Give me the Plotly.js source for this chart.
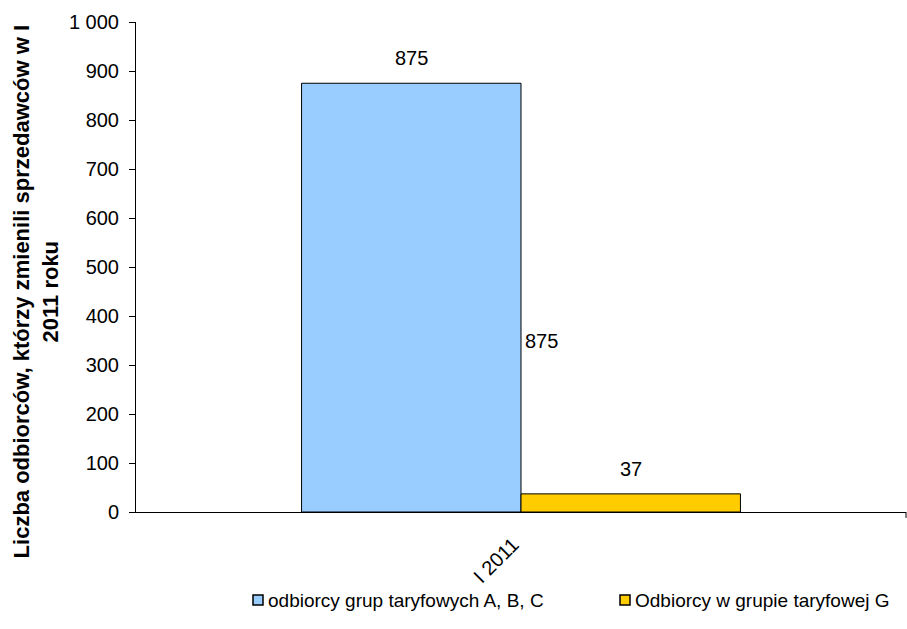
<!DOCTYPE html>
<html>
<head>
<meta charset="utf-8">
<script src="https://cdn.plot.ly/plotly-3.0.1.min.js"></script>
<style>html,body{margin:0;padding:0;background:#fff;}#chart{width:907px;height:629px;}</style>
</head>
<body>
<div id="chart"></div>
<script>
var categories = ["I 2011"];
var seriesNames = ["odbiorcy grup taryfowych A, B, C", "Odbiorcy w grupie taryfowej G"];
var seriesColors = ["#99CCFF", "#FFCC00"];
var seriesABC = [875];
var seriesG = [37];
var yTickVals = [0, 100, 200, 300, 400, 500, 600, 700, 800, 900, 1000];
var yTickText = ["0", "100", "200", "300", "400", "500", "600", "700", "800", "900", "1 000"];
var extraLabelValue = 875;
var extraLabelY = 350;

var fontFam = "Liberation Sans, Arial, sans-serif";

var traces = [
  {
    type: "bar", x: categories, y: seriesABC, name: seriesNames[0],
    marker: {color: seriesColors[0], line: {color: "#000", width: 1}}
  },
  {
    type: "bar", x: categories, y: seriesG, name: seriesNames[1],
    marker: {color: seriesColors[1], line: {color: "#000", width: 1}}
  }
];

var labelFont = {family: fontFam, size: 20, color: "#000"};

// plot area in pixels: left 136, width 770, top 22, height 490
function px2paperX(p) { return (p - 136) / 770; }
function px2paperY(p) { return (512 - p) / 490; }

var legendItems = [
  {sq: 253, txt: 266},
  {sq: 620, txt: 633}
];
var legendY = 600;

var shapes = [
  {type: "line", xref: "paper", yref: "paper", x0: 1, x1: 1, y0: 0, y1: -0.012, line: {color: "#000", width: 1}}
];
var annotations = [
  {
    xref: "paper", yref: "paper", x: -0.13, y: 0.45, xanchor: "center", yanchor: "middle",
    textangle: -90, showarrow: false,
    text: "<b>Liczba odbiorców, którzy zmienili sprzedawców w I<br>2011 roku</b>",
    font: {family: fontFam, size: 22, color: "#000"}
  },
  {
    xref: "x", yref: "y", x: categories[0], y: seriesABC[0], xshift: -110, yshift: 12,
    xanchor: "center", yanchor: "bottom", showarrow: false,
    text: String(seriesABC[0]), font: labelFont
  },
  {
    xref: "x", yref: "y", x: categories[0], y: seriesG[0], xshift: 110, yshift: 12,
    xanchor: "center", yanchor: "bottom", showarrow: false,
    text: String(seriesG[0]), font: labelFont
  },
  {
    xref: "paper", yref: "y", x: 0.502, y: extraLabelY, xanchor: "left", yanchor: "middle",
    showarrow: false, text: String(extraLabelValue), font: labelFont
  }
];

legendItems.forEach(function (it, i) {
  shapes.push({
    type: "rect", xref: "paper", yref: "paper",
    x0: px2paperX(it.sq), x1: px2paperX(it.sq + 10),
    y0: px2paperY(legendY - 5), y1: px2paperY(legendY + 5),
    fillcolor: seriesColors[i], line: {color: "#000", width: 1.5}
  });
  annotations.push({
    xref: "paper", yref: "paper", x: px2paperX(it.txt), y: px2paperY(legendY),
    xanchor: "left", yanchor: "middle", showarrow: false,
    text: seriesNames[i], font: {family: fontFam, size: 19, color: "#000"}
  });
});

var layout = {
  width: 907, height: 629,
  margin: {l: 136, r: 1, t: 22, b: 117},
  paper_bgcolor: "#fff", plot_bgcolor: "#fff",
  barmode: "group", bargap: 0.43, bargroupgap: 0,
  font: {family: fontFam, size: 20, color: "#000"},
  showlegend: false,
  xaxis: {
    type: "category", showline: true, linecolor: "#000", linewidth: 1,
    ticks: "", tickangle: -45, tickfont: {family: fontFam, size: 20},
    ticklabelstandoff: 12, ticklabelshift: -8, automargin: false,
    showgrid: false, zeroline: false, fixedrange: true
  },
  yaxis: {
    range: [0, 1000], showline: true, linecolor: "#000", linewidth: 1,
    ticks: "outside", ticklen: 6, tickcolor: "#000",
    tickvals: yTickVals, ticktext: yTickText, automargin: false,
    tickfont: {family: fontFam, size: 20}, ticklabelstandoff: 6,
    showgrid: false, zeroline: false, fixedrange: true
  },
  annotations: annotations,
  shapes: shapes
};

Plotly.newPlot("chart", traces, layout, {displayModeBar: false, staticPlot: true});
</script>
</body>
</html>
